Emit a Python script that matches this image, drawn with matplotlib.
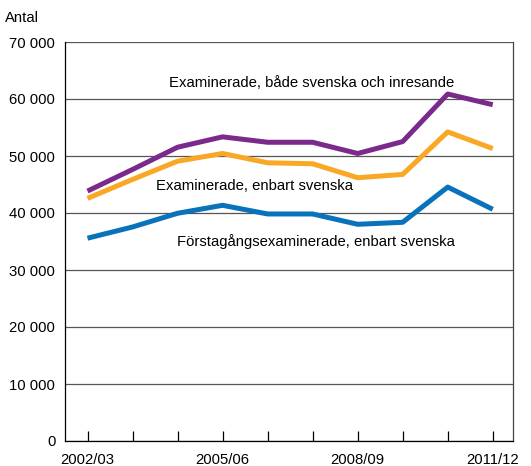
import matplotlib
matplotlib.use("Agg")
import matplotlib.pyplot as plt
from matplotlib.ticker import FuncFormatter

plt.rcParams['font.family'] = ['Liberation Sans', 'DejaVu Sans']

years = ["2002/03", "2003/04", "2004/05", "2005/06", "2006/07",
         "2007/08", "2008/09", "2009/10", "2010/11", "2011/12"]
alla = [43850, 47640, 51540, 53360, 52410, 52410, 50440, 52530, 60870, 59000]
svenska = [42570, 45890, 49090, 50440, 48810, 48640, 46190, 46770, 54230, 51310]
forsta = [35580, 37550, 39950, 41350, 39830, 39830, 38020, 38370, 44550, 40650]

fig = plt.figure(figsize=(5.31, 4.66), dpi=100)
ax = fig.add_axes([65/531, 1-441/466, 448/531, 399/466])

x = list(range(len(years)))
ax.plot(x, alla, color='#7B2A8C', lw=3.6, solid_capstyle='butt', zorder=3)
ax.plot(x, svenska, color='#F8A824', lw=3.6, solid_capstyle='butt', zorder=3)
ax.plot(x, forsta, color='#0872BA', lw=3.6, solid_capstyle='butt', zorder=3)

ax.set_xlim(-0.5, 9.45)
ax.set_ylim(0, 70000)
ax.set_yticks(range(0, 70001, 10000))
ax.yaxis.set_major_formatter(FuncFormatter(lambda v, p: f"{int(v):,}".replace(",", " ")))
ax.grid(axis='y', color='#555555', lw=0.9)
ax.set_axisbelow(True)
ax.tick_params(axis='y', length=0, pad=7, labelsize=10.7)

ax.set_xticks(x)
ax.set_xticklabels([y if i % 3 == 0 else "" for i, y in enumerate(years)])
ax.tick_params(axis='x', direction='in', length=7, width=0.9, pad=9, labelsize=10.7)
ax.spines['top'].set_visible(False)
for s in ['left', 'bottom', 'right']:
    ax.spines[s].set_linewidth(0.9)
ax.spines['right'].set_color('#444444')

ax.text(1.82, 62850, "Examinerade, både svenska och inresande", fontsize=10.7, va='center')
ax.text(1.53, 44670, "Examinerade, enbart svenska", fontsize=10.7, va='center')
ax.text(1.98, 35050, "Förstagångsexaminerade, enbart svenska", fontsize=10.7, va='center')

fig.text(5/531, 1-18/466, "Antal", fontsize=10.7, va='center')

fig.savefig("out.png", dpi=100)
